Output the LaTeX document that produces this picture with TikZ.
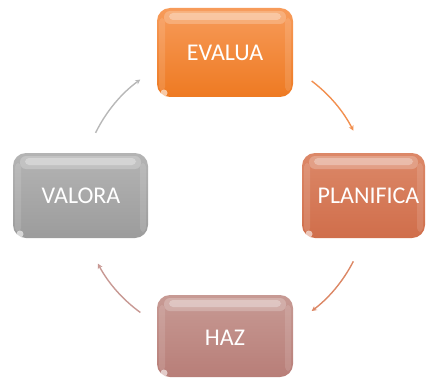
\documentclass[tikz,border=0pt]{standalone}
\usepackage{fontspec}
\setmainfont{Carlito}
\usetikzlibrary{arrows.meta,calc}
\definecolor{evtop}{HTML}{F79B5A}
\definecolor{evbot}{HTML}{EE7A22}
\definecolor{pltop}{HTML}{DC8868}
\definecolor{plbot}{HTML}{D06E4B}
\definecolor{hztop}{HTML}{C79A94}
\definecolor{hzbot}{HTML}{B87E78}
\definecolor{vatop}{HTML}{B4B4B4}
\definecolor{vabot}{HTML}{9C9C9C}
\definecolor{argray}{HTML}{B8B8B8}
\definecolor{arorange}{HTML}{F29050}
\definecolor{arsalmon}{HTML}{DC8866}
\definecolor{arpink}{HTML}{C89994}
\tikzset{
  stagebox/.style={inner sep=0pt, text=white,
    font=\fontsize{24}{28}\selectfont},
  cyclearrow/.style={line width=1.4pt, -{Stealth[length=5pt,width=5pt]}},
}
\begin{document}
\begin{tikzpicture}[x=1pt,y=1pt]
\useasboundingbox (0,0) rectangle (427,378);
\foreach \cx/\cy/\w/\h/\ct/\cb in {
  225/325.5/136/89/evtop/evbot,
  363.5/182.5/123/85/pltop/plbot,
  225/42/136/82/hztop/hzbot,
  80.5/182.5/135/85/vatop/vabot}{
  \path[rounded corners=13pt, top color=\ct, bottom color=\cb]
    (\cx-\w/2,\cy-\h/2) rectangle (\cx+\w/2,\cy+\h/2);
  % glossy top highlight
  \path[rounded corners=6pt, fill=white, fill opacity=0.22]
    (\cx-\w/2+7,\cy+\h/2-16) rectangle (\cx+\w/2-7,\cy+\h/2-3);
  \path[rounded corners=4pt, fill=white, fill opacity=0.3]
    (\cx-\w/2+12,\cy+\h/2-12) rectangle (\cx+\w/2-12,\cy+\h/2-5);
  % side sheen
  \path[rounded corners=4pt, fill=white, fill opacity=0.12]
    (\cx-\w/2+2,\cy-\h/2+6) rectangle (\cx-\w/2+8,\cy+\h/2-10);
  \path[rounded corners=4pt, fill=white, fill opacity=0.12]
    (\cx+\w/2-8,\cy-\h/2+6) rectangle (\cx+\w/2-2,\cy+\h/2-10);
  % bottom-left glint
  \path[fill=white, fill opacity=0.6] (\cx-\w/2+7,\cy-\h/2+4) circle[radius=3.5];
}
\node[stagebox] (evalua) at (225,325.5) {EVALUA};
\node[stagebox] (planifica) at (368.5,182.5) {PLANIFICA};
\node[stagebox] (haz) at (225,40) {HAZ};
\node[stagebox] (valora) at (81,182.5) {VALORA};
% arc connectors on circle centre (225,182), radius 144
\coordinate (c) at (225,182);
\coordinate (a1) at ($(c)+(154:144)$);
\coordinate (a2) at ($(c)+(53:144)$);
\coordinate (a3) at ($(c)+(-27:144)$);
\coordinate (a4) at ($(c)+(-126:144)$);
\draw[cyclearrow, argray] (a1) arc[start angle=154, end angle=126, radius=144];
\draw[cyclearrow, arorange] (a2) arc[start angle=53, end angle=27, radius=144];
\draw[cyclearrow, arsalmon] (a3) arc[start angle=-27, end angle=-53, radius=144];
\draw[cyclearrow, arpink] (a4) arc[start angle=-126, end angle=-152, radius=144];
\end{tikzpicture}
\end{document}
